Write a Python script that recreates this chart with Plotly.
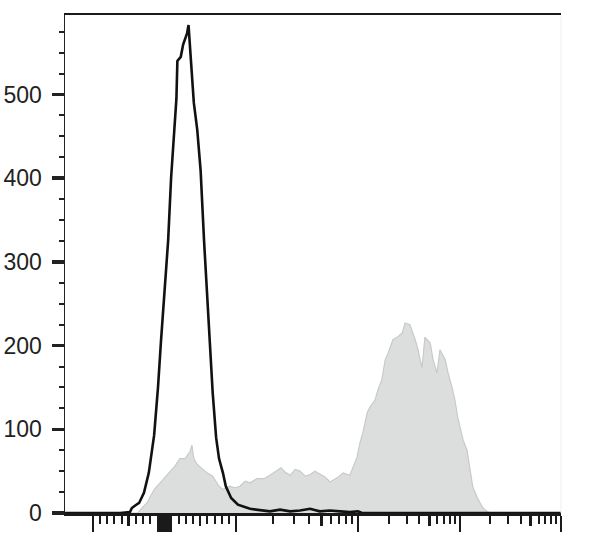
import math
import plotly.graph_objects as go

# ---------------- data (x in display channels 0..1024, y = cell counts) ----------------
black_x = [0, 114, 134, 138, 145, 153, 163, 173, 184, 192, 198, 205, 213, 219, 225, 230,
           232, 239, 244, 252, 255, 258, 262, 266, 273, 280, 287, 293, 299, 305, 312, 318,
           326, 332, 343, 357, 382, 403, 423, 444, 465, 485, 506, 526, 547, 568, 588, 605,
           613, 1024]
black_y = [0, 0, 1, 6, 9, 12, 24, 48, 93, 150, 204, 265, 326, 400, 458, 495,
           540, 545, 560, 573, 583, 556, 532, 490, 458, 409, 326, 265, 204, 143, 90, 65,
           48, 32, 18, 10, 5, 3, 2, 4, 2, 3, 5, 2, 3, 2, 1, 2,
           0, 0]

gray_x = [0, 150, 156, 169, 184, 196, 205, 217, 227, 237, 248, 254, 258, 262, 266, 273,
          283, 293, 305, 318, 326, 340, 351, 361, 372, 382, 396, 411, 423, 436, 446, 454,
          465, 475, 485, 496, 506, 516, 526, 537, 547, 562, 574, 588, 595, 603, 609, 615,
          624, 630, 640, 646, 654, 661, 667, 677, 688, 696, 702, 712, 723, 729, 737, 743,
          754, 760, 768, 774, 785, 791, 799, 805, 811, 822, 830, 836, 842, 853, 863, 873,
          882, 1024]
gray_y = [0, 0, 4, 12, 28, 36, 41, 50, 56, 65, 65, 70, 73, 81, 65, 58,
          53, 48, 44, 32, 28, 32, 30, 32, 38, 36, 41, 41, 45, 50, 54, 49,
          45, 52, 50, 44, 46, 50, 47, 43, 37, 42, 48, 45, 55, 67, 84, 96,
          120, 127, 135, 147, 159, 183, 191, 207, 211, 215, 227, 225, 207, 195, 173, 210,
          203, 183, 167, 195, 183, 167, 150, 135, 114, 87, 75, 55, 31, 16, 6, 1,
          0, 0]

# scale values used for the axis tick marks (biexponential display)
long_tick_values = [-100] + [v for v in range(-9, 10) if v != 0] + [100, 1000, 10000, 100000]
mid_tick_values = [-50, 50, 500, 5000, 50000]
minor_tick_values = ([-m for m in (20, 30, 40, 60, 70, 80, 90)] +
                     [m for m in (20, 30, 40, 60, 70, 80, 90)] +
                     [m * d for d in (100, 1000, 10000) for m in (2, 3, 4, 6, 7, 8, 9)])
y_tick_values = [0, 100, 200, 300, 400, 500]

# ---------------- display transform: linear near zero, log above 100 ----------------
ZERO_CH = 205.4
LIN_SLOPE = 1.476
DECADE_CH = {2: 353.0, 3: 604.9, 4: 815.5, 5: 1024.0}


def to_channel(v):
    if abs(v) <= 100:
        return ZERO_CH + LIN_SLOPE * v
    lv = math.log10(v)
    d = min(int(math.floor(lv)), 4)
    return DECADE_CH[d] + (lv - d) * (DECADE_CH[d + 1] - DECADE_CH[d])


long_ticks = [to_channel(v) for v in long_tick_values]
mid_ticks = [to_channel(v) for v in mid_tick_values]
minor_ticks = [to_channel(v) for v in minor_tick_values]

FONT = "Liberation Sans, Arial, Helvetica, sans-serif"

fig = go.Figure()
fig.add_trace(go.Scatter(
    x=gray_x, y=gray_y, mode="lines", fill="tozeroy",
    fillcolor="#dcdedd", line=dict(color="#c8cac9", width=1.2),
    hoverinfo="skip", showlegend=False))
fig.add_trace(go.Scatter(
    x=black_x, y=black_y, mode="lines",
    line=dict(color="#111111", width=2.6),
    hoverinfo="skip", showlegend=False))
# invisible trace to activate the overlay axis carrying the medium tick marks
fig.add_trace(go.Scatter(x=[0], y=[0], xaxis="x2", mode="markers",
                         marker=dict(opacity=0), hoverinfo="skip", showlegend=False))

fig.update_layout(
    width=608, height=545,
    margin=dict(l=65, r=47, t=15, b=32, autoexpand=False),
    paper_bgcolor="white", plot_bgcolor="white",
    font=dict(family=FONT, size=23, color="#222222"),
    xaxis=dict(
        range=[0, 1024], showgrid=False, zeroline=False, automargin=False,
        showline=True, linecolor="#1a1a1a", linewidth=2.5, mirror=True,
        tickmode="array", tickvals=long_ticks, ticktext=[""] * len(long_ticks),
        ticks="outside", ticklen=16, tickwidth=2.5, tickcolor="#1a1a1a",
        showticklabels=False,
        minor=dict(tickmode="array", tickvals=minor_ticks, ticks="outside",
                   ticklen=8, tickwidth=2, tickcolor="#1a1a1a", showgrid=False),
    ),
    xaxis2=dict(
        range=[0, 1024], overlaying="x", side="bottom", anchor="y", automargin=False,
        showgrid=False, zeroline=False, showline=False,
        tickmode="array", tickvals=mid_ticks, ticktext=[""] * len(mid_ticks),
        ticks="outside", ticklen=12, tickwidth=2.5, tickcolor="#1a1a1a",
        showticklabels=False,
    ),
    yaxis=dict(
        range=[0, 595], showgrid=False, zeroline=False, automargin=False,
        showline=True, linecolor="#222222", linewidth=1.5,
        tickmode="array", tickvals=y_tick_values,
        ticktext=[str(v) for v in y_tick_values],
        ticks="outside", ticklen=12, tickwidth=3.5, tickcolor="#222222",
        ticklabelstandoff=5,
        tickfont=dict(family=FONT, size=23, color="#222222"),
        minor=dict(dtick=25, tick0=0, ticks="outside", ticklen=5, tickwidth=2,
                   tickcolor="#222222", showgrid=False),
    ),
    shapes=[dict(type="line", xref="paper", yref="paper", x0=1, x1=1, y0=0, y1=1,
                 line=dict(color="#eeeeee", width=1))],
)

fig.write_html("out.html",
               config={"displayModeBar": False, "staticPlot": True},
               post_script="document.body.style.margin='0';document.body.style.overflow='hidden';")
